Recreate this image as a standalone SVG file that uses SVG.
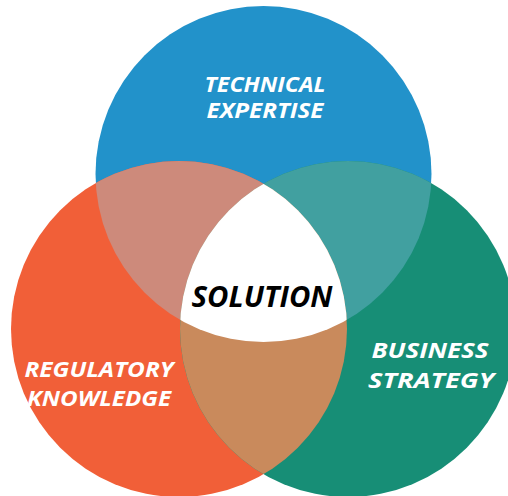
<svg xmlns="http://www.w3.org/2000/svg" width="508" height="496" viewBox="0 0 508 496">
<style>
.lbl{font-family:"Open Sans","Liberation Sans",sans-serif;font-weight:700;font-style:italic;fill:#fff;text-anchor:middle;font-size:21.5px}
.sol{font-family:"Open Sans","Liberation Sans",sans-serif;font-weight:700;font-style:italic;fill:#000;text-anchor:middle;font-size:28.5px}
</style>
<defs>
<clipPath id="cB"><circle cx="263.5" cy="174" r="168"/></clipPath>
<clipPath id="cO"><circle cx="179" cy="329" r="168"/></clipPath>
<clipPath id="cT"><circle cx="348" cy="329" r="168"/></clipPath>
</defs>
<rect width="508" height="496" fill="#fff"/>
<g id="technical">
<circle cx="263.5" cy="174" r="168" fill="#2292CA"/>
</g>
<g id="regulatory">
<circle cx="179" cy="329" r="168" fill="#F15F38"/>
</g>
<g id="business">
<circle cx="348" cy="329" r="168" fill="#178E76"/>
</g>
<g id="overlaps">
<circle cx="179" cy="329" r="168" fill="#CD8A7B" clip-path="url(#cB)"/>
<circle cx="348" cy="329" r="168" fill="#41A0A0" clip-path="url(#cB)"/>
<circle cx="348" cy="329" r="168" fill="#C98A5C" clip-path="url(#cO)"/>
<g clip-path="url(#cB)"><circle cx="348" cy="329" r="168" fill="#fff" clip-path="url(#cO)"/></g>
</g>
<g id="labels">
<text class="lbl" x="265" y="92" textLength="121" lengthAdjust="spacingAndGlyphs">TECHNICAL</text>
<text class="lbl" x="265" y="118" textLength="117" lengthAdjust="spacingAndGlyphs">EXPERTISE</text>
<text class="lbl" x="99" y="377" textLength="149" lengthAdjust="spacingAndGlyphs">REGULATORY</text>
<text class="lbl" x="99" y="406" textLength="144" lengthAdjust="spacingAndGlyphs">KNOWLEDGE</text>
<text class="lbl" x="430" y="358" textLength="117" lengthAdjust="spacingAndGlyphs">BUSINESS</text>
<text class="lbl" x="431" y="388" textLength="126" lengthAdjust="spacingAndGlyphs">STRATEGY</text>
</g>
<g id="solution">
<text class="sol" x="262" y="307" textLength="141" lengthAdjust="spacingAndGlyphs">SOLUTION</text>
</g>
</svg>
